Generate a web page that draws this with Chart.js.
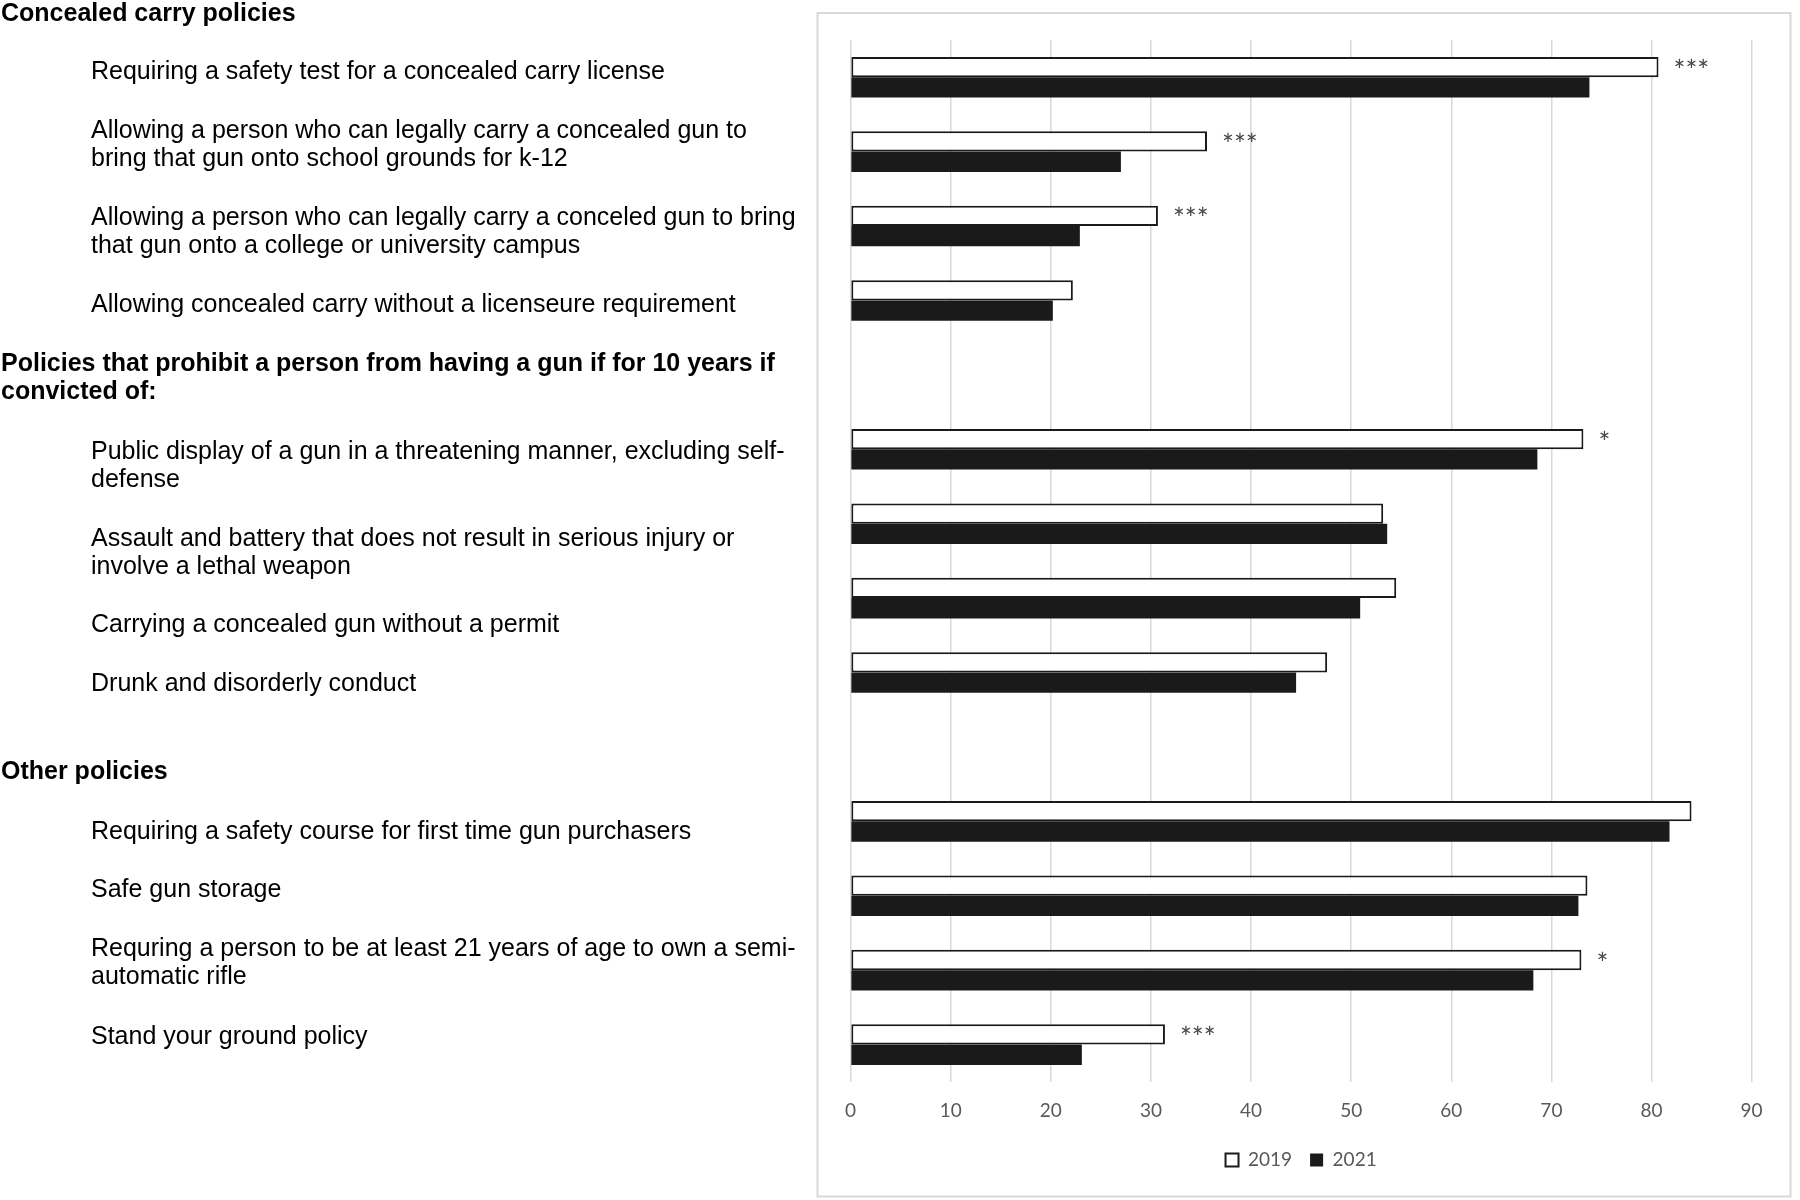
<!DOCTYPE html>
<html>
<head>
<meta charset="utf-8">
<script src="https://cdn.jsdelivr.net/npm/chart.js@4.4.1/dist/chart.umd.min.js"></script>
<style>
    html, body { margin: 0; padding: 0; background: #fff; }
    #wrap { width: 1800px; height: 1200px; }
</style>
</head>
<body>
<div id="wrap"><canvas id="policy-chart" width="1800" height="1200"></canvas></div>
<script>
// rows top to bottom; empty rows are where the group headings sit
var policyLabels = [
    ['Requiring a safety test for a concealed carry license'],
    ['Allowing a person who can legally carry a concealed gun to', 'bring that gun onto school grounds for k-12'],
    ['Allowing a person who can legally carry a conceled gun to bring', 'that gun onto a college or university campus'],
    ['Allowing concealed carry without a licenseure requirement'],
    [],
    ['Public display of a gun in a threatening manner, excluding self-', 'defense'],
    ['Assault and battery that does not result in serious injury or', 'involve a lethal weapon'],
    ['Carrying a concealed gun without a permit'],
    ['Drunk and disorderly conduct'],
    [],
    ['Requiring a safety course for first time gun purchasers'],
    ['Safe gun storage'],
    ['Requring a person to be at least 21 years of age to own a semi-', 'automatic rifle'],
    ['Stand your ground policy']
];
var groupHeadings = [
    ['Concealed carry policies'],
    ['Policies that prohibit a person from having a gun if for 10 years if', 'convicted of:'],
    ['Other policies']
];
var headingRows = [-1, 4, 9];

var support2019 = [80.7, 35.6, 30.7, 22.2, null, 73.2, 53.2, 54.5, 47.6, null, 84.0, 73.6, 73.0, 31.4];
var support2021 = [73.8, 27.0, 22.9, 20.2, null, 68.6, 53.6, 50.9, 44.5, null, 81.8, 72.7, 68.2, 23.1];
var significance = ['***', '***', '***', '', '', '*', '', '', '', '', '', '', '*', '***'];
var xTickValues = [0, 10, 20, 30, 40, 50, 60, 70, 80, 90];

// the left hand text is a separate table in the original, so it does not sit exactly on the bars
var labelShift = [-8, -9, 4, 2, 0, 14, 27, 25, 9, 0, 8, -8, -10, -10];
var headingShift = [9, 1, 23];

var textFont = '"Liberation Sans", Arial, sans-serif';
var axisFont = 'Lato, "Open Sans", sans-serif';

var sideLabels = {
    id: 'sideLabels',
    afterDraw: function (chart) {
        var ctx = chart.ctx;
        var yScale = chart.scales.y;
        ctx.save();
        ctx.fillStyle = '#000000';
        ctx.textAlign = 'left';
        ctx.textBaseline = 'middle';

        function block(lines, mid, x, bold) {
            ctx.font = (bold ? 'bold ' : '') + '25px ' + textFont;
            var top = mid + 2.5 - (lines.length - 1) * 14;
            lines.forEach(function (t, k) {
                ctx.fillText(t, x, top + k * 28);
            });
        }

        policyLabels.forEach(function (lines, i) {
            if (lines.length) {
                block(lines, yScale.getPixelForValue(i) + labelShift[i], 91, false);
            }
        });
        groupHeadings.forEach(function (lines, j) {
            block(lines, yScale.getPixelForValue(headingRows[j]) + headingShift[j], 1, true);
        });

        // significance stars after the 2019 bar
        var meta = chart.getDatasetMeta(0);
        ctx.fillStyle = '#454545';
        ctx.font = '28px ' + axisFont;
        significance.forEach(function (s, i) {
            if (s) {
                var bar = meta.data[i];
                ctx.fillText(s, bar.x + 15, bar.y + 4.5);
            }
        });

        // light frame around the plot
        ctx.strokeStyle = '#d9d9d9';
        ctx.lineWidth = 2;
        ctx.strokeRect(817.5, 13, 973, 1183.5);
        ctx.restore();
    }
};

var ctx = document.getElementById('policy-chart');

var policyChart = new Chart(ctx, {
    type: 'bar',
    data: {
        labels: policyLabels.map(function (l) { return l.join(' '); }),
        datasets: [{
            label: '2019',
            data: support2019,
            backgroundColor: '#ffffff',
            borderColor: '#1a1a1a',
            borderWidth: 2,
            borderSkipped: false
        }, {
            label: '2021',
            data: support2021,
            backgroundColor: '#1a1a1a',
            borderColor: '#1a1a1a',
            borderWidth: 0,
            borderSkipped: false
        }]
    },
    options: {
        indexAxis: 'y',
        responsive: false,
        animation: false,
        categoryPercentage: 0.546,
        barPercentage: 1.0,
        layout: {
            padding: { left: 850.6, right: 48.4, top: 40, bottom: 20.4 }
        },
        scales: {
            x: {
                min: 0,
                max: 90,
                afterBuildTicks: function (scale) {
                    scale.ticks = xTickValues.map(function (v) { return { value: v }; });
                },
                afterFit: function (scale) {
                    scale.height -= 8;
                },
                grid: {
                    color: '#d9d9d9',
                    lineWidth: 1.5,
                    drawTicks: false
                },
                border: { display: false },
                ticks: {
                    padding: 18,
                    color: '#595959',
                    font: { family: axisFont, size: 19 }
                }
            },
            y: {
                display: false
            }
        },
        plugins: {
            legend: {
                position: 'bottom',
                labels: {
                    boxWidth: 13,
                    boxHeight: 13,
                    padding: 18,
                    color: '#595959',
                    font: { family: axisFont, size: 19 }
                }
            },
            tooltip: { enabled: false }
        }
    },
    plugins: [sideLabels]
});
</script>
</body>
</html>
